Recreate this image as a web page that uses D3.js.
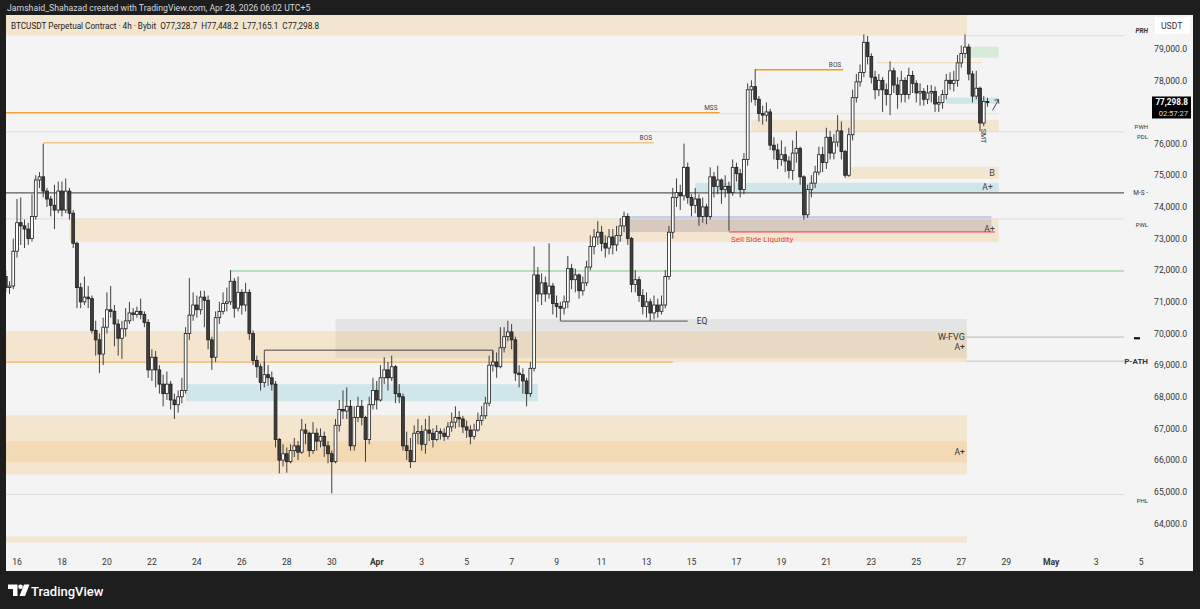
<!DOCTYPE html>
<html>
<head>
<meta charset="utf-8">
<script src="https://cdn.jsdelivr.net/npm/d3@7"></script>
<style>
  html, body { margin: 0; padding: 0; background: #1e1e1e; }
  svg { display: block; font-family: Roboto, "Noto Sans", sans-serif; }
</style>
</head>
<body>
<svg id="chart" width="1200" height="609"></svg>
<script>
// BTCUSDT perpetual, 4h candles starting 15 Mar 2026 12:00 UTC
const startTime = Date.UTC(2026, 2, 15, 12);
const barMs = 4 * 3600 * 1000;
const firstOpen = 71800;

const closes = [
  71450, 71500, 72600, 73500, 73400, 73300, 73000, 73700, 74850, 74950,
  74500, 74250, 74050, 73900, 74500, 73900, 74500, 73800, 72850, 71450,
  71000, 71150, 71100, 70100, 69800, 69350, 70200, 70750, 70700, 70300,
  69850, 70150, 70400, 70650, 70600, 70700, 70600, 70350, 68850, 69250,
  68850, 68400, 68100, 68400, 67900, 67750, 68000, 68200, 70000, 70580,
  70900, 70750, 71150, 71050, 69800, 69250, 70500, 70700, 70950, 71000,
  71650, 70800, 71300, 70900, 71300, 70000, 69150, 68950, 68450, 68700,
  68600, 68400, 66650, 66000, 66200, 65950, 66300, 66450, 66250, 66950,
  66850, 66300, 66850, 66600, 66750, 66450, 66200, 65950, 67100, 67600,
  67550, 67700, 66450, 67350, 67700, 67350, 66650, 67750, 68200, 67900,
  68600, 68850, 68600, 68950, 68100, 68000, 66450, 66300, 65950, 66850,
  66900, 66500, 66950, 66850, 66650, 66900, 66850, 66750, 67050, 67200,
  67350, 67300, 67050, 66950, 66750, 66950, 67250, 67400, 67800, 69000,
  69100, 68950, 69550, 69900, 70050, 69800, 68750, 68700, 68500, 68100,
  68900, 71850, 71250, 71600, 71250, 71500, 70950, 70850, 70800, 71000,
  72050, 71700, 71850, 71350, 71600, 72100, 72750, 73050, 73200, 72850,
  72700, 73050, 72800, 73100, 73400, 73700, 73000, 71550, 71700, 71200,
  70850, 71000, 70650, 70900, 70700, 70900, 71800, 73200, 74300, 74450,
  74350, 75250, 74300, 74050, 74250, 73700, 74000, 73700, 74950, 74650,
  74850, 74550, 74650, 74450, 75250, 75050, 74550, 75500, 77700, 77800,
  77400, 76950, 76900, 77000, 75950, 75800, 75500, 75650, 75450, 75150,
  75700, 75850, 74950, 73750, 74550, 74750, 75100, 75650, 75400, 76200,
  75700, 76050, 76400, 75750, 75000, 76280, 77450, 77950, 78250, 79200,
  78750, 78100, 77700, 78000, 77700, 77550, 78300, 77850, 77550, 78000,
  77550, 78150, 77900, 77600, 77650, 77400, 77600, 77650, 77250, 77300,
  77550, 78000, 77900, 78000, 78550, 78850, 79050, 78200, 77500, 77750,
  76650, 77328.7, 77298.8
];

const highs = [
  72000, 71650, 73000, 74250, 74300, 73600, 73500, 74400, 75000, 75100,
  76000, 74600, 74350, 74700, 74800, 74800, 74900, 74600, 73900, 72900,
  71600, 71800, 71500, 71200, 70400, 70000, 70500, 71300, 71500, 70900,
  70450, 70400, 70800, 71000, 70800, 70850, 71100, 70700, 70450, 69500,
  69450, 69000, 68700, 68800, 68500, 68100, 68200, 68600, 70200, 71750,
  71300, 71200, 71350, 71350, 71200, 69900, 70700, 71000, 71300, 71450,
  72000, 71750, 71800, 71400, 71600, 71400, 70100, 69300, 69050, 69100,
  69000, 68800, 68500, 66700, 66500, 66400, 66500, 66700, 66600, 67300,
  67150, 66900, 67200, 67000, 67000, 66900, 66600, 66300, 67300, 67900,
  68200, 68300, 67900, 67700, 68000, 67900, 67400, 68000, 68600, 68500,
  69000, 69250, 69100, 69300, 69000, 68400, 68100, 66900, 66700, 67100,
  67300, 67100, 67300, 67400, 67000, 67100, 67000, 67000, 67200, 67500,
  67700, 67550, 67400, 67250, 67100, 67150, 67500, 67700, 68000, 69300,
  69450, 69400, 70200, 70200, 70400, 70300, 69900, 69000, 68900, 68600,
  69100, 72750, 72100, 71900, 71800, 72850, 71600, 71200, 71000, 71200,
  72450, 72200, 72050, 71900, 71800, 72300, 73100, 73300, 73550, 73400,
  73100, 73300, 73300, 73400, 73650, 73850, 73800, 73050, 72000, 71800,
  71400, 71300, 71100, 71200, 71100, 71200, 72000, 73400, 74600, 74900,
  74700, 76000, 75400, 74400, 74600, 74400, 74300, 74100, 75250, 75100,
  75300, 74900, 75000, 74800, 75500, 75400, 75200, 75700, 77900, 78000,
  78350, 77500, 77200, 77300, 77100, 76200, 76000, 76100, 75900, 75600,
  76100, 76400, 75900, 75000, 74700, 75000, 75300, 75900, 75900, 76500,
  76400, 76300, 76900, 76700, 75800, 76500, 77700, 78200, 78500, 79450,
  79400, 78850, 78300, 78200, 78100, 77900, 78600, 78400, 78100, 78300,
  78100, 78400, 78300, 78000, 77900, 77750, 77850, 77850, 77800, 77500,
  77700, 78200, 78250, 78300, 78800, 79100, 79450, 79150, 78300, 78300,
  77800, 77500, 77448.2
];

const lows = [
  71300, 71250, 71400, 72400, 72800, 72700, 72800, 72900, 73600, 74600,
  74300, 74000, 73700, 73300, 73800, 73700, 73800, 73600, 72700, 70800,
  70800, 70900, 70800, 70000, 69300, 68750, 69000, 70000, 70500, 69600,
  69300, 69200, 69900, 70300, 70400, 70500, 70450, 70200, 68600, 68500,
  68300, 68100, 67700, 67900, 67600, 67300, 67500, 67800, 68100, 69800,
  70400, 70500, 70600, 70200, 69500, 68850, 69100, 70300, 70600, 70700,
  70900, 70500, 70700, 70600, 70700, 69800, 69000, 68600, 68200, 68300,
  68350, 68200, 66400, 65580, 65800, 65600, 65900, 66100, 66000, 66200,
  66500, 66100, 66200, 66300, 66400, 66100, 65900, 64950, 65900, 66900,
  67300, 67300, 66300, 66300, 67200, 67100, 65950, 66500, 67600, 67600,
  67850, 68400, 68200, 68500, 67800, 67800, 66300, 66000, 65750, 65950,
  66500, 66300, 66200, 66600, 66400, 66600, 66650, 66600, 66650, 66900,
  67000, 67050, 66850, 66700, 66500, 66650, 66900, 67100, 67300, 67700,
  68800, 68600, 68900, 69400, 69750, 69500, 68500, 68300, 68100, 67700,
  68000, 68800, 71000, 70900, 71000, 71100, 70600, 70500, 70400, 70600,
  70800, 71400, 71300, 71100, 71200, 71500, 72000, 72500, 72800, 72600,
  72400, 72500, 72500, 72600, 72900, 73200, 72800, 71300, 71300, 71000,
  70600, 70500, 70400, 70450, 70500, 70600, 70800, 71700, 73000, 74000,
  73900, 74200, 74100, 73700, 73800, 73400, 73500, 73450, 73600, 74300,
  74400, 74100, 74300, 73250, 74350, 74800, 74300, 74400, 75300, 77300,
  77200, 76700, 76600, 76700, 75800, 75500, 75200, 75300, 75100, 74900,
  74850, 75400, 74700, 73600, 73650, 74300, 74600, 75000, 75100, 75200,
  75500, 75500, 75900, 75500, 74920, 74950, 76100, 77300, 77800, 78100,
  78500, 77900, 77400, 77500, 77000, 77200, 76900, 77600, 77100, 77300,
  77300, 77400, 77600, 77300, 77200, 77200, 77250, 77300, 77000, 77000,
  77100, 77400, 77700, 77650, 77800, 78400, 78700, 78000, 77300, 77400,
  76400, 76550, 77165.1
];

const priceTicks = [64000, 65000, 66000, 67000, 68000, 69000, 70000, 71000,
  72000, 73000, 74000, 75000, 76000, 77000, 78000, 79000];

const dayTicks = ['2026-03-16', '2026-03-18', '2026-03-20', '2026-03-22', '2026-03-24',
  '2026-03-26', '2026-03-28', '2026-03-30', '2026-04-01', '2026-04-03', '2026-04-05',
  '2026-04-07', '2026-04-09', '2026-04-11', '2026-04-13', '2026-04-15', '2026-04-17',
  '2026-04-19', '2026-04-21', '2026-04-23', '2026-04-25', '2026-04-27', '2026-04-29',
  '2026-05-01', '2026-05-03', '2026-05-05'];

// Drawn zones: [kind, from, to, top price, bottom price]  ('L' / 'R' = chart edge)
const zones = [
  ['peach', 'L', '2026-04-27T06:00Z', 80100, 79411],
  ['green', '2026-04-27T06:00Z', '2026-04-28T16:00Z', 79063, 78715],
  ['blue', '2026-04-26T08:00Z', '2026-04-28T16:00Z', 77449, 77259],
  ['peach', '2026-04-17T16:00Z', '2026-04-28T16:00Z', 76753, 76373],
  ['peach', '2026-04-21T20:00Z', '2026-04-28T16:00Z', 75265, 74886],
  ['blue', '2026-04-15T04:00Z', '2026-04-28T16:00Z', 74759, 74474],
  ['peach', '2026-03-18T08:00Z', '2026-04-28T16:00Z', 73620, 72892],
  ['liquidity', '2026-04-12T04:00Z', '2026-04-28T08:00Z', 73683, 73208],
  ['grey', '2026-03-30T04:00Z', '2026-04-27T06:00Z', 70455, 69220],
  ['peach', 'L', '2026-04-27T06:00Z', 70075, 69094],
  ['blue', '2026-03-23T12:00Z', '2026-04-08T04:00Z', 68397, 67859],
  ['peach', 'L', '2026-04-27T06:00Z', 67416, 65548],
  ['peach', 'L', '2026-04-27T06:00Z', 66593, 65928],
  ['peach', 'L', '2026-04-27T06:00Z', 63587, 63397]
];

// Drawn horizontal lines: [kind, from, to, price]
const levels = [
  ['ref', '2026-04-27T06:00Z', 'R', 79411],
  ['faint', '2026-04-23T06:00Z', '2026-04-27T22:00Z', 78557],
  ['bos', '2026-04-17T20:00Z', '2026-04-21T18:00Z', 78335],
  ['mss', 'L', '2026-04-16T06:00Z', 76974],
  ['faint', '2026-04-16T06:00Z', '2026-04-28T16:00Z', 76943],
  ['ref', 'L', 'R', 76373],
  ['bos2', '2026-03-17T04:00Z', '2026-04-13T08:00Z', 76025],
  ['ms', 'L', 'R', 74442],
  ['ref', 'L', 'R', 73620],
  ['ssl', '2026-04-16T16:00Z', '2026-04-28T12:00Z', 73208],
  ['green', '2026-03-25T12:00Z', 'R', 71974],
  ['eq', '2026-04-09T04:00Z', '2026-04-14T20:00Z', 70392],
  ['ref2', '2026-04-27T06:00Z', 'R', 69885],
  ['ref2', '2026-04-27T06:00Z', 'R', 69125],
  ['obline', 'L', '2026-04-14T04:00Z', 69094],
  ['ref', 'L', 'R', 64916]
];

const svg = d3.select('#chart');
const W = 1200, H = 609;
const plotL = 6, plotR = 1118, lineR = 1124, plotT = 15, plotB = 548;

// dark frame and chart panel
svg.append('rect').attr('width', W).attr('height', H).attr('fill', '#1e1e1e');
svg.append('rect').attr('x', 6).attr('y', 15).attr('width', 1187).attr('height', 556).attr('fill', '#f4f4f4');

const x = d3.scaleUtc()
  .domain([new Date(startTime), new Date(startTime + 262 * barMs)])
  .range([5.76, 987.5]);
const y = d3.scaleLinear().domain([64000, 79000]).range([523.4, 48.65]);

const xs = v => v === 'L' ? plotL : v === 'R' ? lineR : x(new Date(v));

svg.append('clipPath').attr('id', 'plot').append('rect')
  .attr('x', plotL).attr('y', plotT).attr('width', lineR - plotL).attr('height', plotB - plotT);
const g = svg.append('g').attr('clip-path', 'url(#plot)');

// zones
const zoneFill = {
  peach: 'rgba(245,190,110,0.28)',
  blue: 'rgba(100,190,210,0.26)',
  green: 'rgba(120,200,120,0.22)',
  grey: 'rgba(150,150,150,0.16)',
  liquidity: 'rgba(115,105,140,0.22)'
};
g.selectAll('rect.zone').data(zones).join('rect')
  .attr('class', 'zone')
  .attr('x', d => xs(d[1]))
  .attr('width', d => xs(d[2]) - xs(d[1]))
  .attr('y', d => y(d[3]))
  .attr('height', d => y(d[4]) - y(d[3]))
  .attr('fill', d => zoneFill[d[0]]);

// blue top edge of the liquidity box
const liq = zones.find(d => d[0] === 'liquidity');
g.append('line')
  .attr('x1', xs(liq[1])).attr('x2', xs(liq[2]))
  .attr('y1', y(liq[3])).attr('y2', y(liq[3]))
  .attr('stroke', '#b4c2ec').attr('stroke-width', 1.2);

// levels
const levelStyle = {
  ref: ['#dcdcdc', 1],
  ref2: ['#d2d2d2', 1.6],
  faint: ['#f2dcc2', 1.2],
  bos: ['#f29a14', 1.5],
  bos2: ['#f1c489', 1.5],
  mss: ['#f0a236', 1.3],
  ms: ['#5a5a5a', 1.4],
  ssl: ['#f23645', 1],
  green: ['#a8d8aa', 1.3],
  eq: ['#555555', 1],
  obline: ['#efc588', 1.6]
};
g.selectAll('line.level').data(levels).join('line')
  .attr('class', 'level')
  .attr('x1', d => xs(d[1])).attr('x2', d => xs(d[2]))
  .attr('y1', d => y(d[3])).attr('y2', d => y(d[3]))
  .attr('stroke', d => levelStyle[d[0]][0])
  .attr('stroke-width', d => levelStyle[d[0]][1]);

// range bracket from 27 Mar to 6 Apr
const bracket = [['2026-03-27T00:00Z', 68780], ['2026-03-27T00:00Z', 69474],
  ['2026-04-06T04:00Z', 69474], ['2026-04-06T04:00Z', 69050]];
g.append('path')
  .attr('d', d3.line().x(d => xs(d[0])).y(d => y(d[1]))(bracket))
  .attr('fill', 'none').attr('stroke', '#444').attr('stroke-width', 1);

// candles
const candles = closes.map((c, i) => ({
  t: new Date(startTime + i * barMs),
  o: i === 0 ? firstOpen : closes[i - 1],
  h: highs[i], l: lows[i], c
}));
const bodyW = 2.8;
const cg = g.append('g');
cg.selectAll('line.wick').data(candles).join('line')
  .attr('class', 'wick')
  .attr('x1', d => x(d.t)).attr('x2', d => x(d.t))
  .attr('y1', d => y(d.h)).attr('y2', d => y(d.l))
  .attr('stroke', '#2b2b2b').attr('stroke-width', 0.9);
cg.selectAll('rect.body').data(candles).join('rect')
  .attr('class', 'body')
  .attr('x', d => x(d.t) - bodyW / 2)
  .attr('width', bodyW)
  .attr('y', d => y(Math.max(d.o, d.c)))
  .attr('height', d => Math.max(0.8, Math.abs(y(d.o) - y(d.c))))
  .attr('fill', d => d.c >= d.o ? '#ffffff' : '#3f3f3f')
  .attr('stroke', '#1c1c1c').attr('stroke-width', 0.8);

// annotation texts (date, price, text, anchor, size, colour, dx, dy)
const notes = [
  ['2026-04-13T08:00Z', 76025, 'BOS', 'end', 6.5, '#444', -2, -3],
  ['2026-04-21T18:00Z', 78335, 'BOS', 'end', 6.5, '#444', -2, -3],
  ['2026-04-16T06:00Z', 76974, 'MSS', 'end', 6.5, '#444', -2, -3],
  ['2026-04-16T16:00Z', 73208, 'Sell Side Liquidity', 'start', 8, '#f23645', 2, 10],
  ['2026-04-14T20:00Z', 70392, 'EQ', 'start', 8.5, '#333', 9, 3],
  ['2026-04-28T16:00Z', 75075, 'B', 'end', 9, '#444', -4, 3.5],
  ['2026-04-28T16:00Z', 74616, 'A+', 'end', 8.5, '#444', -6, 3],
  ['2026-04-28T16:00Z', 73208, 'A+', 'end', 8.5, '#444', -4, 0],
  ['2026-04-27T06:00Z', 69885, 'W-FVG', 'end', 9, '#333', -2, 3],
  ['2026-04-27T06:00Z', 69570, 'A+', 'end', 8.5, '#333', -2, 3],
  ['2026-04-27T06:00Z', 66260, 'A+', 'end', 8.5, '#333', -2, 3]
];
svg.selectAll('text.note').data(notes).join('text')
  .attr('class', 'note')
  .attr('x', d => xs(d[0]) + d[6])
  .attr('y', d => y(d[1]) + d[7])
  .attr('text-anchor', d => d[3])
  .attr('font-size', d => d[4])
  .attr('fill', d => d[5])
  .text(d => d[2]);

// SMT vertical tag and arrow near the last bars
const last = candles[candles.length - 1];
const smtX = x(candles[260].t) + 1, smtY = y(76470);
svg.append('text')
  .attr('transform', `translate(${smtX},${smtY}) rotate(90)`)
  .attr('font-size', 7).attr('fill', '#333').text('SMT');
const ax1 = x(last.t) + 5, ay1 = y(77050), ax2 = x(last.t) + 11, ay2 = y(77390);
svg.append('path')
  .attr('d', `M${ax1},${ay1}L${ax2},${ay2}M${ax2 - 4},${ay2 + 0.5}L${ax2},${ay2}L${ax2 + 0.3},${ay2 + 4}`)
  .attr('fill', 'none').attr('stroke', '#333').attr('stroke-width', 0.9);

// price axis (labels hidden behind the last-price box are skipped, as on the platform)
const ly = y(last.c);
svg.selectAll('text.ptick').data(priceTicks.filter(d => y(d) < ly - 12 || y(d) > ly + 22)).join('text')
  .attr('class', 'ptick')
  .attr('x', 1187).attr('y', d => y(d) + 3.2)
  .attr('text-anchor', 'end').attr('font-size', 8.6).attr('fill', '#333')
  .text(d => d3.format(',.1f')(d));

// level tags on the price axis (text, price, dy, size, weight)
const tags = [
  ['PRH', 79411, -2.5, 6.5, 700],
  ['PWH', 76373, -3, 6, 400],
  ['PDL', 76373, 7, 6, 400],
  ['M-S -', 74442, 2.5, 6.5, 400],
  ['PWL', 73620, 8, 6, 400],
  ['P-ATH', 69125, 3, 8, 700],
  ['PHL', 64916, 8.5, 6, 400]
];
svg.selectAll('text.tag').data(tags).join('text')
  .attr('class', 'tag')
  .attr('x', 1148).attr('y', d => y(d[1]) + d[2])
  .attr('text-anchor', 'end').attr('font-size', d => d[3])
  .attr('font-weight', d => d[4]).attr('font-style', d => d[0] === 'PRH' ? 'italic' : 'normal')
  .attr('fill', '#333').text(d => d[0]);
svg.append('rect').attr('x', 1134).attr('y', y(69885)).attr('width', 6).attr('height', 2.2).attr('fill', '#111');

// currency box
svg.append('rect').attr('x', 1155).attr('y', 17).attr('width', 35).attr('height', 17).attr('fill', '#ffffff');
svg.append('text').attr('x', 1161).attr('y', 29).attr('font-size', 8.6).attr('fill', '#333').text('USDT');

// last price box
svg.append('rect').attr('x', 1152).attr('y', ly - 6).attr('width', 39).attr('height', 22).attr('fill', '#000');
svg.append('text').attr('x', 1188).attr('y', ly + 2.5).attr('text-anchor', 'end')
  .attr('font-size', 8.2).attr('font-weight', 700).attr('fill', '#fff').text(d3.format(',.1f')(last.c));
svg.append('text').attr('x', 1188).attr('y', ly + 13.5).attr('text-anchor', 'end')
  .attr('font-size', 7.6).attr('fill', '#ddd').text('02:57:27');

// time axis
svg.selectAll('text.ttick').data(dayTicks).join('text')
  .attr('class', 'ttick')
  .attr('x', d => x(new Date(d + 'T00:00Z')))
  .attr('y', 565)
  .attr('text-anchor', 'middle').attr('font-size', 8.6).attr('fill', '#333')
  .attr('font-weight', d => new Date(d + 'T00:00Z').getUTCDate() === 1 ? 700 : 400)
  .text(d => {
    const dt = new Date(d + 'T00:00Z');
    return dt.getUTCDate() === 1 ? d3.utcFormat('%b')(dt) : dt.getUTCDate();
  });

// header lines
svg.append('text').attr('x', 7).attr('y', 11).attr('font-size', 8.7).attr('fill', '#d8d8d8')
  .text('Jamshaid_Shahazad created with TradingView.com, Apr 28, 2026 06:02 UTC+5');
const f = d3.format(',.1f');
svg.append('text').attr('x', 11).attr('y', 29).attr('font-size', 8.2).attr('fill', '#222')
  .attr('xml:space', 'preserve')
  .text(`BTCUSDT Perpetual Contract · 4h · Bybit  O${f(last.o)}  H${f(last.h)}  L${f(last.l)}  C${f(last.c)}`);

// TradingView logo
const logo = svg.append('g').attr('fill', '#ffffff');
logo.append('path').attr('d', 'M8,584.5H17.5V596H13V589H8Z');
logo.append('circle').attr('cx', 20.5).attr('cy', 586.8).attr('r', 2.3);
logo.append('path').attr('d', 'M24,584.5H29.5L25,596H19.5Z');
logo.append('text').attr('x', 31).attr('y', 596).attr('font-size', 13).attr('font-weight', 500)
  .text('TradingView');
</script>
</body>
</html>
